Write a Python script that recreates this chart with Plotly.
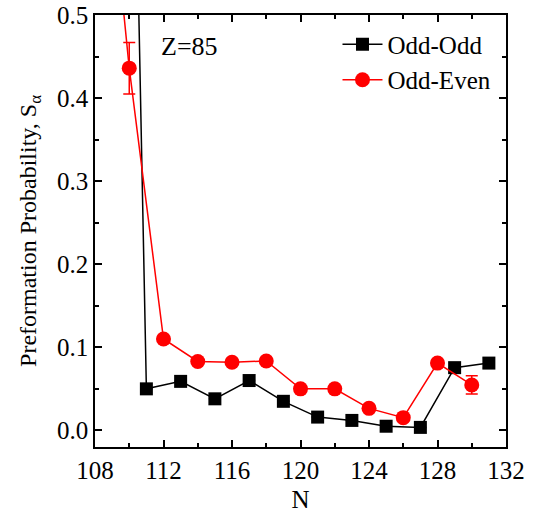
import plotly.graph_objects as go

n_odd_odd = [109, 111, 113, 115, 117, 119, 121, 123, 125, 127, 129, 131]
s_odd_odd = [2.1, 0.050, 0.059, 0.038, 0.060, 0.035, 0.016, 0.012, 0.005, 0.0036, 0.0755, 0.081]
e_odd_odd = [0, 0, 0, 0, 0, 0, 0, 0, 0, 0, 0, 0.006]

n_odd_even = [108, 110, 112, 114, 116, 118, 120, 122, 124, 126, 128, 130]
s_odd_even = [0.85, 0.436, 0.110, 0.083, 0.082, 0.0836, 0.050, 0.050, 0.0265, 0.0153, 0.081, 0.0547]
e_odd_even = [0, 0.031, 0, 0, 0, 0, 0, 0, 0, 0, 0, 0.011]

x_ticks = [108, 112, 116, 120, 124, 128, 132]
y_ticks = [0.0, 0.1, 0.2, 0.3, 0.4, 0.5]

FONT = "'Liberation Serif', 'Times New Roman', Times, serif"

fig = go.Figure()
fig.add_trace(go.Scatter(
    x=n_odd_odd, y=s_odd_odd, mode="lines+markers", name="Odd-Odd",
    line=dict(color="black", width=1.5),
    marker=dict(symbol="square", size=13, color="black"),
    error_y=dict(type="data", array=e_odd_odd, color="black", thickness=1.5, width=6),
))
fig.add_trace(go.Scatter(
    x=n_odd_even, y=s_odd_even, mode="lines+markers", name="Odd-Even",
    line=dict(color="red", width=1.5),
    marker=dict(symbol="circle", size=15, color="red"),
    error_y=dict(type="data", array=e_odd_even, color="red", thickness=1.5, width=6),
))

axis_common = dict(
    showgrid=False, zeroline=False, showline=True, linecolor="black", linewidth=1.5,
    mirror="allticks", ticks="inside", ticklen=7, tickwidth=1.5, tickcolor="black",
    tickfont=dict(family=FONT, size=25, color="black"), automargin=False,
)
fig.update_xaxes(
    range=[108, 132], tickvals=x_ticks,
    minor=dict(dtick=2, tick0=108, ticks="inside", ticklen=4, tickwidth=1.5, tickcolor="black"),
    title=dict(text="N", font=dict(family=FONT, size=25, color="black"), standoff=8),
    **axis_common,
)
fig.update_yaxes(
    range=[-0.02, 0.5], tickvals=y_ticks, tickformat=".1f",
    minor=dict(dtick=0.05, tick0=0, ticks="inside", ticklen=4, tickwidth=1.5, tickcolor="black"),
    title=dict(text="Preformation Probability, S<sub>α</sub>", font=dict(family=FONT, size=24, color="black"), standoff=14),
    **axis_common,
)
fig.add_annotation(
    x=111.75, y=0.462, xref="x", yref="y", text="Z=85", showarrow=False,
    xanchor="left", font=dict(family=FONT, size=26, color="black"),
)
fig.update_layout(
    width=541, height=518, margin=dict(l=95, r=35, t=15, b=71),
    paper_bgcolor="white", plot_bgcolor="white",
    showlegend=True,
    legend=dict(x=0.59, y=0.985, xanchor="left", yanchor="top", bgcolor="rgba(0,0,0,0)",
                font=dict(family=FONT, size=25, color="black"), itemwidth=40,
                tracegroupgap=0),
)
fig.write_html("out.html")
